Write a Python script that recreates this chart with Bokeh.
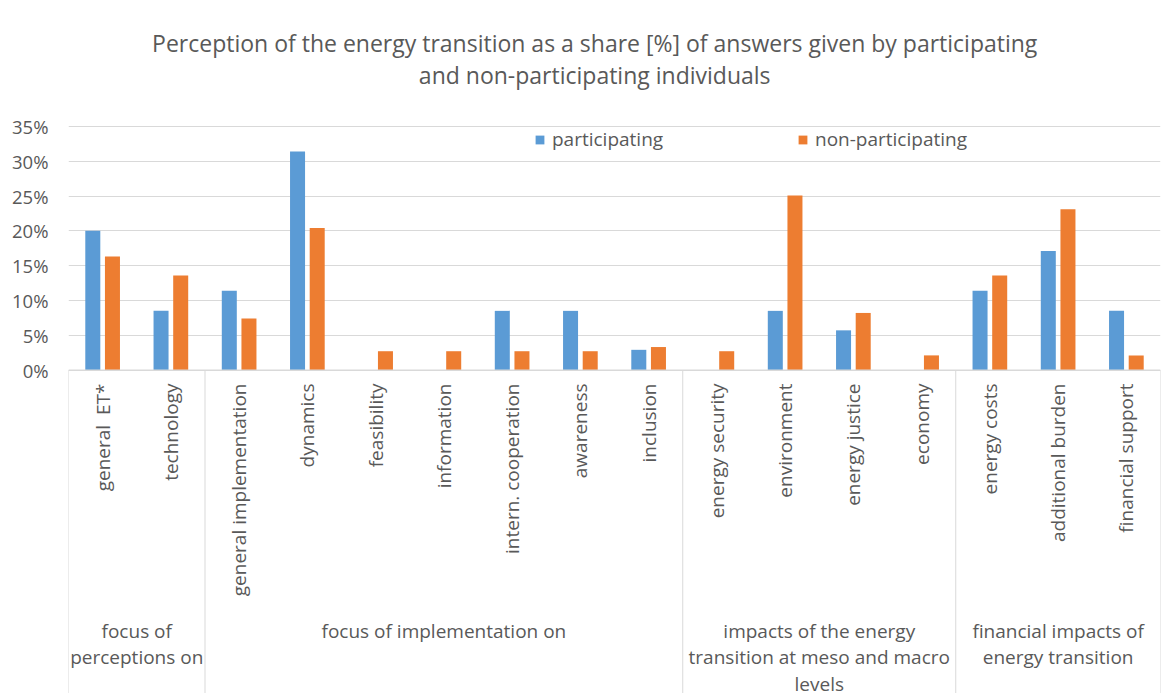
import numpy as np
from bokeh.plotting import figure
from bokeh.models import Range1d, FixedTicker, Legend, LegendItem, CustomJSTickFormatter
from bokeh.core.properties import value
from bokeh.embed import file_html
from bokeh.resources import INLINE

# ---------------- data ----------------
categories = ["general\u00a0 ET*", "technology", "general implementation", "dynamics",
              "feasibility", "information", "intern. cooperation", "awareness",
              "inclusion", "energy security", "environment", "energy justice",
              "economy", "energy costs", "additional burden", "financial support"]
participating = [20.0, 8.5, 11.4, 31.4, 0.0, 0.0, 8.5, 8.5, 2.9, 0.0, 8.5, 5.7,
                 0.0, 11.4, 17.1, 8.5]
non_participating = [16.3, 13.6, 7.4, 20.4, 2.7, 2.7, 2.7, 2.7, 3.3, 2.7, 25.1, 8.2,
                     2.1, 13.6, 23.1, 2.1]
group_labels = ["focus of\nperceptions on", "focus of implementation on",
                "impacts of the energy\ntransition at meso and macro\nlevels",
                "financial impacts of\nenergy transition"]
group_sizes = [2, 7, 4, 3]
y_ticks = [0, 5, 10, 15, 20, 25, 30, 35]
title_lines = ["Perception of the energy transition as a share [%] of answers given by participating",
               "and non-participating individuals"]

# ---------------- layout ----------------
W, H = 1165, 693
LEFT = 68
RIGHT_PAD = 5
ZERO_Y = 369.5          # canvas px of 0 %
TOP35_Y = 126.0         # canvas px of 35 %
PXU = 35.0 / (ZERO_Y - TOP35_Y)   # data units per pixel
Y_TOP = ZERO_Y * PXU
Y_BOT = -(H - ZERO_Y) * PXU

def yc(canvas_y):
    return (ZERO_Y - canvas_y) * PXU

FONT = "Open Sans"
TXT = "#595959"
GRID = "#d9d9d9"
BLUE = "#5B9BD5"
ORANGE = "#ED7D31"

n = len(categories)
xs = np.arange(n) + 0.5

p = figure(width=W, height=H, output_backend="svg", toolbar_location=None,
           x_range=Range1d(0, n), y_range=Range1d(Y_BOT, Y_TOP),
           min_border_left=LEFT, min_border_right=RIGHT_PAD, min_border_top=0, min_border_bottom=0)
p.outline_line_color = None
p.background_fill_color = "white"
p.border_fill_color = "white"
p.xaxis.visible = False
p.xgrid.visible = False
p.yaxis.ticker = FixedTicker(ticks=y_ticks)
p.ygrid.ticker = FixedTicker(ticks=y_ticks)
p.ygrid.grid_line_color = GRID
p.yaxis.axis_line_color = None
p.yaxis.major_tick_line_color = None
p.yaxis.minor_tick_line_color = None
p.yaxis.major_label_standoff = 14
p.yaxis.major_label_text_font = FONT
p.yaxis.major_label_text_font_size = "18.5px"
p.yaxis.major_label_text_color = TXT
p.yaxis.formatter = CustomJSTickFormatter(code="return tick + '%';")

# bars
bw = 0.22
off = 0.144
r1 = p.vbar(x=xs - off, top=participating, width=bw, fill_color=BLUE, line_color=None)
r2 = p.vbar(x=xs + off, top=non_participating, width=bw, fill_color=ORANGE, line_color=None)

# baseline & separators
p.segment(x0=[0], y0=[0], x1=[n], y1=[0], line_color=GRID, line_width=1)
bounds = np.concatenate([[0], np.cumsum(group_sizes)])
p.segment(x0=bounds, y0=[0] * len(bounds), x1=bounds, y1=[Y_BOT] * len(bounds),
          line_color=GRID, line_width=1)

# category labels (rotated)
p.text(x=xs, y=[yc(383)] * n, text=categories, angle=np.pi / 2,
       text_align="right", text_baseline="middle",
       text_font=value(FONT), text_font_size="19px", text_color=TXT)

# group labels
centers = (bounds[:-1] + bounds[1:]) / 2
p.text(x=centers, y=[yc(617)] * len(centers), text=group_labels,
       text_align="center", text_baseline="top", text_line_height=1.02,
       text_font=value(FONT), text_font_size="19px", text_color=TXT)

# title
tx = 7.71
p.text(x=[tx, tx], y=[yc(42), yc(74)], text=title_lines,
       text_align="center", text_baseline="middle",
       text_font=value(FONT), text_font_size="23px", text_color=TXT)

# legends (location = bottom-left of legend, relative to frame bottom-left)
leg_bottom = H - 152
leg1 = Legend(items=[LegendItem(label="participating", renderers=[r1])],
              location=(466, leg_bottom), orientation="horizontal")
leg2 = Legend(items=[LegendItem(label="non-participating", renderers=[r2])],
              location=(729, leg_bottom), orientation="horizontal")
for lg in (leg1, leg2):
    lg.border_line_color = None
    lg.background_fill_alpha = 0
    lg.padding = 0
    lg.margin = 0
    lg.glyph_width = 11
    lg.glyph_height = 11
    lg.label_standoff = 7
    lg.label_text_font = FONT
    lg.label_text_font_size = "19px"
    lg.label_text_color = TXT
    p.add_layout(lg)

open("out.html", "w").write(file_html(p, INLINE))
